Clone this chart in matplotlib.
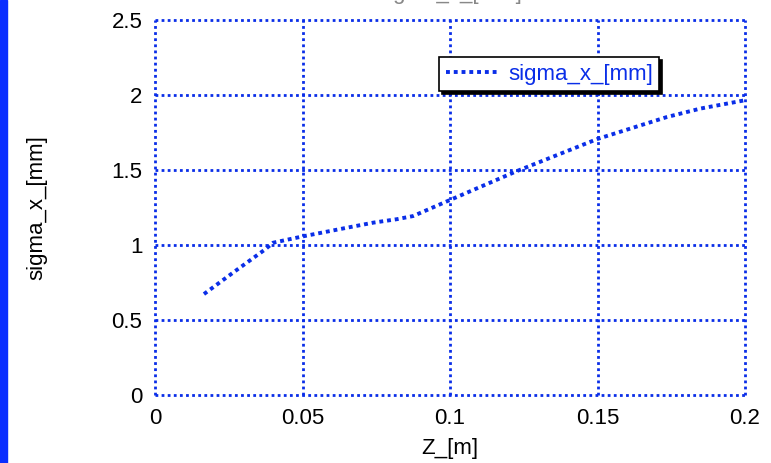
import matplotlib
matplotlib.use("Agg")
import matplotlib.pyplot as plt
import matplotlib.patches as mpatches

z_m = [0.0166, 0.0278, 0.0373, 0.040, 0.050, 0.065, 0.074, 0.082, 0.0875,
       0.100, 0.1227, 0.150, 0.1735, 0.185, 0.200]
sigma_x_mm = [0.673, 0.835, 0.970, 1.015, 1.057, 1.115, 1.149, 1.172, 1.193,
              1.300, 1.493, 1.707, 1.853, 1.910, 1.965]
x_ticks = [0, 0.05, 0.1, 0.15, 0.2]
x_tick_labels = ["0", "0.05", "0.1", "0.15", "0.2"]
y_ticks = [0, 0.5, 1, 1.5, 2, 2.5]
y_tick_labels = ["0", "0.5", "1", "1.5", "2", "2.5"]

BLUE = "#0a2ee8"
plt.rcParams['font.family'] = ['Liberation Sans', 'DejaVu Sans']

fig = plt.figure(figsize=(7.71, 4.63), dpi=100)
ax = fig.add_axes([155/771, 68/463, 590/771, 375/463])

ax.plot(z_m, sigma_x_mm, color=BLUE, linestyle=(0, (1, 1)), linewidth=2.8,
        label="sigma_x_[mm]", zorder=3)

ax.set_xlim(0, 0.2)
ax.set_ylim(0, 2.5)
ax.set_xticks(x_ticks)
ax.set_xticklabels(x_tick_labels)
ax.set_yticks(y_ticks)
ax.set_yticklabels(y_tick_labels)
ax.tick_params(length=0, labelsize=16, pad=9)
ax.grid(True, color=BLUE, linestyle=(0, (1, 1.2)), linewidth=2.0)
for s in ax.spines.values():
    s.set_visible(False)
for gl in ax.get_xgridlines() + ax.get_ygridlines():
    gl.set_clip_on(False)

ax.set_xlabel("Z_[m]", fontsize=16, labelpad=7)
ax.set_ylabel("sigma_x_[mm]", fontsize=16, labelpad=46)

leg = ax.legend(loc="upper left", bbox_to_anchor=((439-155)/590, (395-57)/375),
                borderaxespad=0, fancybox=False, fontsize=16, handlelength=2.4,
                handletextpad=0.4, borderpad=0.3, framealpha=1,
                shadow={'color': 'black', 'alpha': 1})
leg.get_frame().set_edgecolor("black")
leg.get_frame().set_linewidth(1.2)
for t in leg.get_texts():
    t.set_color(BLUE)

# blue bar on the left edge
fig.patches.append(mpatches.Rectangle((0, 0), 7/771, 1, transform=fig.transFigure,
                                      color="#0a2eff", zorder=0))

# title cut off at the top (as in the reference)
fig.text(450/771, 1.0 + 1/463, "sigma_x_[mm]", ha="center", va="baseline",
         fontsize=16, color="#888888")

fig.savefig("out.png", dpi=100)
